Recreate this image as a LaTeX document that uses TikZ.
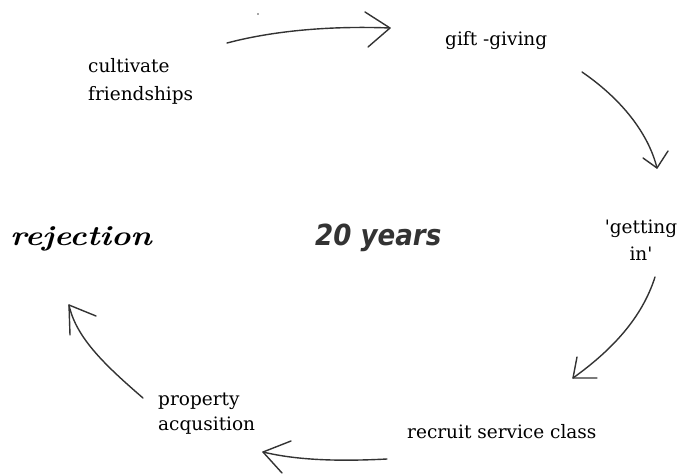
\documentclass[tikz,border=0pt]{standalone}
\usepackage{fontspec}
\newfontfamily\lblfont{DejaVu Serif}
\newfontfamily\yrfont{DejaVu Sans}
\begin{document}
\begin{tikzpicture}[x=1pt,y=-1pt]
\tikzset{
  lbl/.style={font=\lblfont\fontsize{18.5}{28}\selectfont, text=black, inner sep=0pt, anchor=base west},
  lblc/.style={lbl, anchor=base},
  stroke/.style={draw=black!80, line width=1.4pt, line cap=round, line join=round},
}
\path[use as bounding box] (0,0) rectangle (680,474);
% labels
\node[lbl] (cult1) at (88,72) {cultivate};
\node[lbl] (cult2) at (88,100) {friendships};
\node[lbl] (gift) at (445,45) {gift -giving};
\node[lblc] (get1) at (641,233) {'getting};
\node[lblc] (get2) at (641,260) {in'};
\node[lbl] (recr) at (407,438) {recruit service class};
\node[lbl] (prop1) at (158,405) {property};
\node[lbl] (prop2) at (158,430) {acqusition};
\node[inner sep=0pt, anchor=base west, font=\fontsize{28}{30}\selectfont\bfseries\itshape, xscale=1.17] (rej) at (10,245) {rejection};
\node[inner sep=0pt, anchor=base west, text=black!80, font=\yrfont\fontsize{29}{32}\selectfont\bfseries\itshape, xscale=0.9] (yrs) at (315,245) {20 years};
% arrow end points
\coordinate (a1s) at (227,43);  \coordinate (a1e) at (390,28);
\coordinate (a2s) at (582,72);  \coordinate (a2e) at (657,168);
\coordinate (a3s) at (655,277); \coordinate (a3e) at (573,378);
\coordinate (a4s) at (387,459); \coordinate (a4e) at (263,452);
\coordinate (a5s) at (143,398); \coordinate (a5e) at (69,305);
% shafts
\draw[stroke] (a1s) .. controls (280,29) and (340,26) .. (a1e);
\draw[stroke] (a2s) .. controls (620,98) and (648,132) .. (a2e);
\draw[stroke] (a3s) .. controls (642,318) and (612,350) .. (a3e);
\draw[stroke] (a4s) .. controls (330,462) and (292,459) .. (a4e);
\draw[stroke] (a5s) .. controls (106,366) and (76,338) .. (a5e);
% heads
\draw[stroke] (365,12) -- (a1e) -- (368,47);
\draw[stroke] (643,158) -- (a2e) -- (668,151);
\draw[stroke] (577,357) -- (a3e) -- (597,378);
\draw[stroke] (291,441) -- (a4e) -- (282,473);
\draw[stroke] (96,316) -- (a5e) -- (70,335);
% stray dot
\fill[black!70] (258,14) circle (0.9);
\end{tikzpicture}
\end{document}
